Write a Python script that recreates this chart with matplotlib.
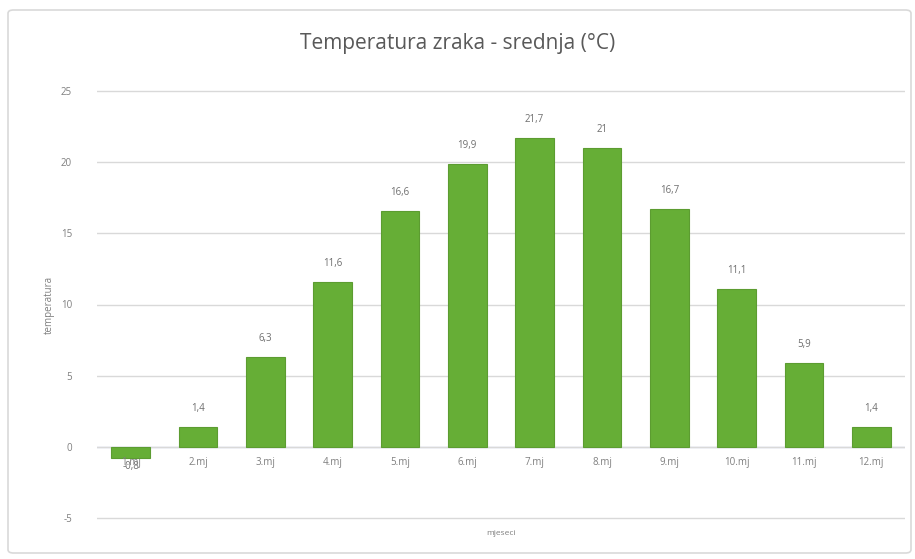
import matplotlib.pyplot as plt
from matplotlib.patches import FancyBboxPatch
import numpy as np

# Monthly mean air temperature
months = ['1.mj', '2.mj', '3.mj', '4.mj', '5.mj', '6.mj', '7.mj', '8.mj', '9.mj', '10.mj', '11.mj', '12.mj']
temps = [-0.8, 1.4, 6.3, 11.6, 16.6, 19.9, 21.7, 21.0, 16.7, 11.1, 5.9, 1.4]
yticks = [-5, 0, 5, 10, 15, 20, 25]

plt.rcParams['font.family'] = ['Open Sans', 'DejaVu Sans']

fig = plt.figure(figsize=(9.15, 5.59), dpi=100)
fig.patch.set_facecolor('white')

# chart border
border = FancyBboxPatch((8 / 915, 6 / 559), 903 / 915, 543 / 559,
                        boxstyle='round,pad=0,rounding_size=0.006',
                        transform=fig.transFigure, facecolor='none',
                        edgecolor='#d9d9d9', linewidth=1.2, zorder=-1)
fig.patches.append(border)

ax = fig.add_axes([97 / 915, 1 - 520 / 559, 808 / 915, 431 / 559])
ax.set_facecolor('none')
x = np.arange(len(months))
ax.bar(x, temps, width=0.57, color='#66ae36', edgecolor='#5c9c31', linewidth=0.8, zorder=3)

ax.set_xlim(-0.5, len(months) - 0.5)
ax.set_ylim(-5.15, 25.15)
ax.set_yticks(yticks)
ax.set_yticklabels([str(v) for v in yticks])
ax.set_xticks(x)
ax.set_xticklabels([])
ax.tick_params(axis='both', length=0, labelsize=7, colors='#7f7f7f')
ax.tick_params(axis='y', pad=18)

ax.grid(axis='y', color='#d9d9d9', linewidth=1, zorder=0)
ax.axhline(0, color='#c9cfe6', linewidth=1, zorder=1)
for s in ax.spines.values():
    s.set_visible(False)

# x tick labels sit just below the zero line
for xi, m in zip(x, months):
    ax.text(xi, -0.75, m, ha='center', va='top', fontsize=7, color='#7f7f7f', zorder=4)

for xi, v in zip(x, temps):
    s = f'{v:g}'.replace('.', ',')
    if v >= 0:
        ax.text(xi, v + 0.9, s, ha='center', va='bottom', fontsize=7, color='#6f6f6f')
    else:
        ax.text(xi, v - 0.2, s, ha='center', va='top', fontsize=7, color='#6f6f6f')

ax.set_ylabel('temperatura', fontsize=7, color='#7f7f7f', labelpad=4)
ax.set_xlabel('mjeseci', fontsize=6, color='#7f7f7f', labelpad=4)

fig.text(0.5, 1 - 44 / 559, 'Temperatura zraka - srednja (°C)', ha='center', va='center',
         fontsize=15, color='#595959')

fig.savefig('out.png', dpi=100)
